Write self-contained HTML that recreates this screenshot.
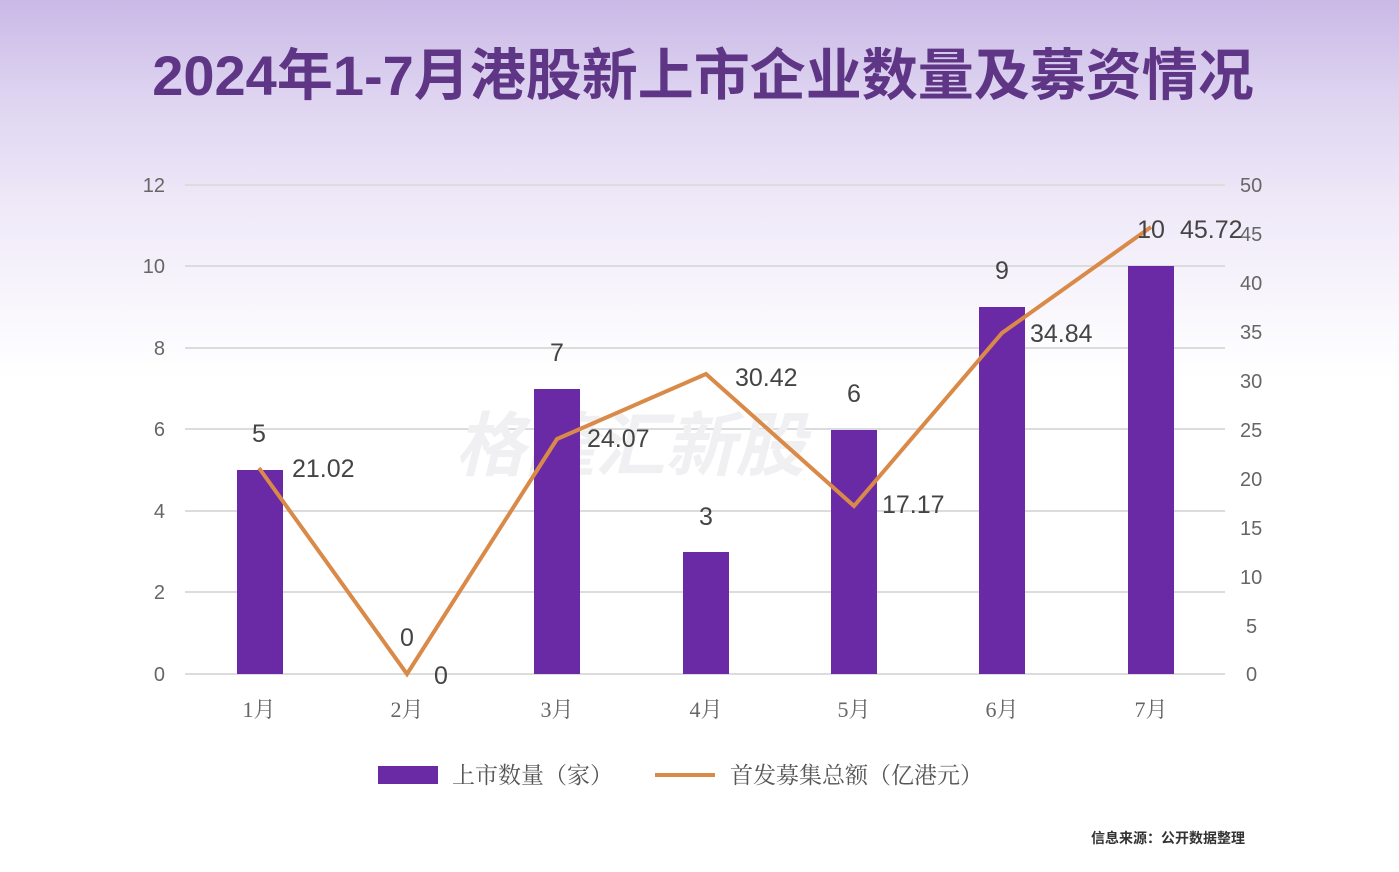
<!DOCTYPE html>
<html><head><meta charset="utf-8"><style>
html,body{margin:0;padding:0}
body{width:1399px;height:872px;overflow:hidden;background:linear-gradient(180deg,#c9b9e6 0px,#ddd2f0 90px,#eee8f8 200px,#f8f6fc 300px,#ffffff 380px);font-family:"Liberation Sans","Noto Sans CJK SC",sans-serif;}
</style></head><body>
<svg width="1399" height="872" xmlns="http://www.w3.org/2000/svg" style="position:absolute;left:0;top:0">
<text x="703" y="95" text-anchor="middle" font-family="Liberation Sans,Noto Sans CJK SC,sans-serif" font-weight="bold" font-size="56" fill="#5f3585">2024年1-7月港股新上市企业数量及募资情况</text>
<g stroke="#dcdcdc" stroke-width="2">
<line x1="185" y1="185" x2="1225" y2="185"/><line x1="185" y1="266" x2="1225" y2="266"/><line x1="185" y1="348" x2="1225" y2="348"/><line x1="185" y1="429" x2="1225" y2="429"/><line x1="185" y1="511" x2="1225" y2="511"/><line x1="185" y1="592" x2="1225" y2="592"/><line x1="185" y1="674" x2="1225" y2="674"/>
</g>
<g font-size="20" fill="#666" text-anchor="end" font-family="Liberation Sans,sans-serif">
<text x="165" y="192">12</text><text x="165" y="273">10</text><text x="165" y="355">8</text><text x="165" y="436">6</text><text x="165" y="518">4</text><text x="165" y="599">2</text><text x="165" y="681">0</text>
</g>
<g font-size="20" fill="#666" font-family="Liberation Sans,sans-serif">
<text x="1240" y="192">50</text><text x="1240" y="241">45</text><text x="1240" y="290">40</text><text x="1240" y="339">35</text><text x="1240" y="388">30</text><text x="1240" y="437">25</text><text x="1240" y="486">20</text><text x="1240" y="535">15</text><text x="1240" y="584">10</text><text x="1246" y="633">5</text><text x="1246" y="681">0</text>
</g>
<text x="455" y="470" font-size="70" font-weight="bold" font-style="italic" fill="#f0f0f3">格隆汇新股</text>
<g fill="#6a2aa6">
<rect x="237" y="470" width="46" height="204"/>
<rect x="534" y="389" width="46" height="285"/>
<rect x="683" y="552" width="46" height="122"/>
<rect x="831" y="430" width="46" height="244"/>
<rect x="979" y="307" width="46" height="367"/>
<rect x="1128" y="266" width="46" height="408"/>
</g>
<polyline fill="none" stroke="#da8a48" stroke-width="4" points="259,468 407,674 557,439 706,374 854,506 1002,333 1151,227"/>
<g font-size="25" fill="#444" font-family="Liberation Sans,sans-serif" text-anchor="middle">
<text x="259" y="442">5</text><text x="407" y="646">0</text><text x="557" y="361">7</text><text x="706" y="525">3</text><text x="854" y="402">6</text><text x="1002" y="279">9</text><text x="1151" y="238">10</text>
</g>
<g font-size="25" fill="#444" font-family="Liberation Sans,sans-serif">
<text x="292" y="477">21.02</text><text x="434" y="684">0</text><text x="587" y="447">24.07</text><text x="735" y="386">30.42</text><text x="882" y="513">17.17</text><text x="1030" y="342">34.84</text><text x="1180" y="238">45.72</text>
</g>
<g font-size="22" fill="#666" text-anchor="middle" font-family="Liberation Serif,Noto Serif CJK SC,serif">
<text x="259" y="717">1月</text><text x="407" y="717">2月</text><text x="557" y="717">3月</text><text x="706" y="717">4月</text><text x="854" y="717">5月</text><text x="1002" y="717">6月</text><text x="1151" y="717">7月</text>
</g>
<rect x="378" y="766" width="60" height="18" fill="#6a2aa6"/>
<text x="452" y="783" font-size="23" fill="#555" font-family="Liberation Serif,Noto Serif CJK SC,serif">上市数量（家）</text>
<line x1="655" y1="775" x2="715" y2="775" stroke="#da8a48" stroke-width="4"/>
<text x="730" y="783" font-size="23" fill="#555" font-family="Liberation Serif,Noto Serif CJK SC,serif">首发募集总额（亿港元）</text>
<text x="1245" y="843" text-anchor="end" font-size="14" font-weight="bold" fill="#333">信息来源：公开数据整理</text>
</svg>
</body></html>
